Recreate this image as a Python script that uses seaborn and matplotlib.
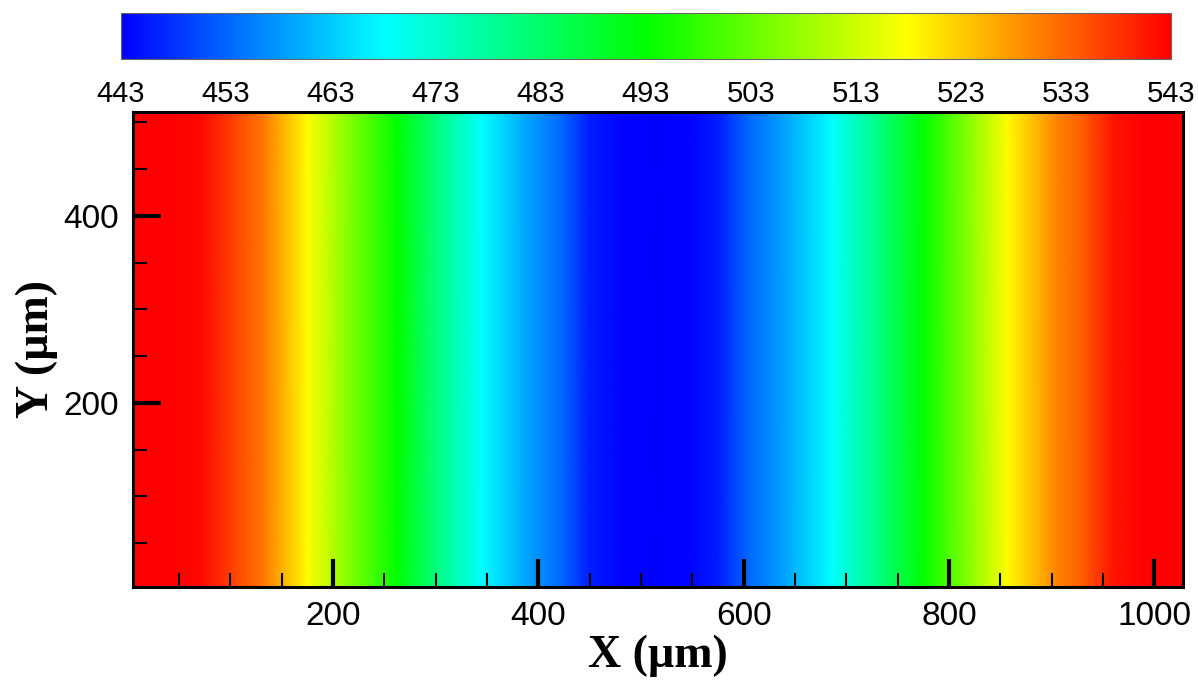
import numpy as np
import matplotlib
matplotlib.use("Agg")
import matplotlib.pyplot as plt
import seaborn as sns

# Temperature profile read across the channel (varies only along X)
x_um = [5, 40, 72, 100, 132, 175, 218, 262, 303, 345, 385, 424, 450, 480,
        516, 550, 575, 603, 645, 686, 730, 775, 815, 857, 905, 930, 960, 990, 1028]
temp = [543, 543, 542, 537, 531, 518, 505, 493, 480, 468, 460, 453, 446, 443.5,
        443, 443.5, 446, 453, 460, 468, 480, 493, 505, 518, 530, 534, 541, 543, 543]
y_um = [0, 512]

cbar_ticks = [443, 453, 463, 473, 483, 493, 503, 513, 523, 533, 543]
x_ticks = [200, 400, 600, 800, 1000]
y_ticks = [200, 400]

sns.set_style("white")
plt.rcParams['font.family'] = ['Liberation Sans', 'DejaVu Sans']
plt.rcParams['text.color'] = 'black'
plt.rcParams['axes.labelcolor'] = 'black'
plt.rcParams['xtick.color'] = 'black'
plt.rcParams['ytick.color'] = 'black'

cmap = sns.blend_palette(["#0000ff", "#00ffff", "#00ff00", "#ffff00", "#ff0000"],
                         as_cmap=True)

fig = plt.figure(figsize=(11.98, 6.84), dpi=100)
ax = fig.add_axes([0.111, 0.1418, 0.8765, 0.6945])
cax = fig.add_axes([0.101, 0.9137, 0.8765, 0.0673])

X, Y = np.meshgrid(x_um, y_um)
Z = np.tile(np.array(temp, dtype=float), (len(y_um), 1))
mesh = ax.pcolormesh(X, Y, Z, cmap=cmap, vmin=443, vmax=543, shading='gouraud')

ax.set_axisbelow(False)
ax.set_xlim(5, 1028)
ax.set_ylim(3, 511)
ax.set_xticks(x_ticks)
ax.set_yticks(y_ticks)
ax.set_xticks(np.arange(50, 1001, 50), minor=True)
ax.set_yticks(np.arange(50, 501, 50), minor=True)
ax.tick_params(which='major', direction='in', length=20, width=3, color='black',
               labelsize=24, pad=10, top=False, right=False,
               labelcolor='black')
ax.tick_params(which='minor', direction='in', length=10, width=1.5, color='black',
               top=False, right=False)
ax.tick_params(axis='x', which='both', bottom=True)
ax.tick_params(axis='y', which='both', left=True)
for sp in ax.spines.values():
    sp.set_linewidth(2.2)
    sp.set_color('black')
    sp.set_zorder(5)

ax.set_xlabel("X (µm)", family=['Liberation Serif', 'DejaVu Serif'],
              fontweight='bold', fontsize=33, labelpad=2, color='black')
ax.set_ylabel("Y (µm)", family=['Liberation Serif', 'DejaVu Serif'],
              fontweight='bold', fontsize=33, labelpad=4, color='black')

cb = fig.colorbar(mesh, cax=cax, orientation='horizontal', ticks=cbar_ticks)
cax.tick_params(length=0, labelsize=21, pad=15, labelcolor='black')
cb.outline.set_linewidth(0.8)
cb.outline.set_edgecolor('#666666')

fig.savefig("out.png", dpi=100)
